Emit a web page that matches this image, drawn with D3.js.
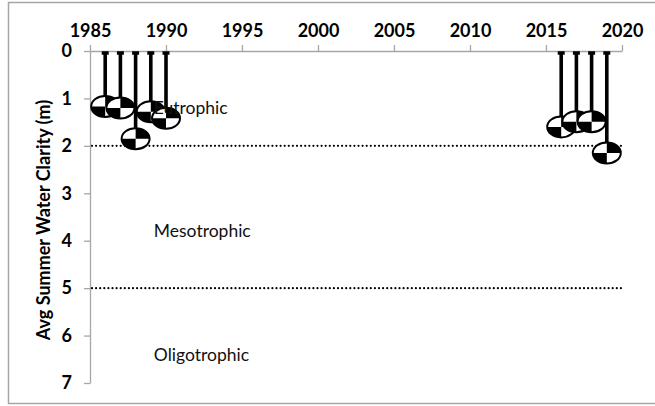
<!DOCTYPE html>
<html><head><meta charset="utf-8">
<script src="https://cdn.jsdelivr.net/npm/d3@7"></script>
<style>
html,body{margin:0;padding:0;background:#fff;}
text{font-family:Lato,"Liberation Sans",sans-serif;}
</style></head>
<body><svg id="c" width="655" height="406"></svg>
<script>
const years = [1986, 1987, 1988, 1989, 1990, 2016, 2017, 2018, 2019];
const clarity = [1.17, 1.2, 1.85, 1.28, 1.42, 1.6, 1.49, 1.49, 2.15];
const xTicks = [1985, 1990, 1995, 2000, 2005, 2010, 2015, 2020];
const yTicks = [0, 1, 2, 3, 4, 5, 6, 7];
const thresholds = [2, 5];
const zoneLabels = ["Eutrophic", "Mesotrophic", "Oligotrophic"];
const zoneDepths = [1.2, 3.8, 6.4];
const labelYear = 1989.2;

const svg = d3.select("#c");
svg.append("rect").attr("x", 8.5).attr("y", 2.5).attr("width", 660).attr("height", 401)
  .attr("fill", "#fff").attr("stroke", "#a6a6a6").attr("stroke-width", 1.5);

const x = d3.scaleLinear().domain([1985, 2020]).range([90, 622]);
const y = d3.scaleLinear().domain([0, 7]).range([51, 383]);

// axes
const xa = svg.append("g").attr("transform", `translate(0,${y(0)})`)
  .call(d3.axisTop(x).tickValues(xTicks).tickSize(6).tickSizeOuter(0).tickPadding(6).tickFormat(d3.format("d")));
const ya = svg.append("g").attr("transform", `translate(${x(1985)},0)`)
  .call(d3.axisLeft(y).tickValues(yTicks).tickSize(6).tickSizeOuter(0).tickPadding(12).tickFormat(d3.format("d")));
[xa, ya].forEach(g => {
  g.select(".domain").attr("stroke", "#a6a6a6").attr("stroke-width", 1.3);
  g.selectAll(".tick line").attr("stroke", "#a6a6a6").attr("stroke-width", 1.3);
  g.selectAll(".tick text").attr("fill", "#000").style("font-size", "18px").style("font-weight", "bold")
   .style("font-family", "Lato, sans-serif");
});
xa.selectAll(".tick text").attr("dy", "-0.1em");

svg.append("text").attr("transform", `translate(44,${(y(0) + y(7)) / 2 + 3}) rotate(-90)`)
  .attr("text-anchor", "middle").attr("dy", "0.35em").style("font-size", "18px").style("font-weight", "bold")
  .text("Avg Summer Water Clarity (m)");

// threshold lines
svg.selectAll("line.thr").data(thresholds).enter().append("line")
  .attr("x1", x(1985) + 2).attr("x2", x(2020)).attr("y1", d => y(d)).attr("y2", d => y(d))
  .attr("stroke", "#000").attr("stroke-width", 2.2).attr("stroke-dasharray", "0 4.1")
  .attr("stroke-linecap", "round");

const pts = years.map((yr, i) => ({ yr, v: clarity[i] }));
// drop lines
const g = svg.append("g");
pts.forEach(p => {
  g.append("line").attr("x1", x(p.yr)).attr("x2", x(p.yr)).attr("y1", y(0) + 1).attr("y2", y(p.v))
    .attr("stroke", "#000").attr("stroke-width", 3.6);
  g.append("line").attr("x1", x(p.yr) - 3.5).attr("x2", x(p.yr) + 3.5).attr("y1", y(0) + 2).attr("y2", y(0) + 2)
    .attr("stroke", "#000").attr("stroke-width", 3.5);
});
// secchi disks
const rx = 14, ry = 10.5;
pts.forEach(p => {
  const cx = x(p.yr), cy = y(p.v);
  const d = g.append("g").attr("transform", `translate(${cx},${cy})`);
  d.append("ellipse").attr("rx", rx).attr("ry", ry).attr("fill", "#fff");
  d.append("path").attr("d", `M0,0 L0,${-ry} A${rx},${ry} 0 0 1 ${rx},0 Z`).attr("fill", "#000");
  d.append("path").attr("d", `M0,0 L0,${ry} A${rx},${ry} 0 0 1 ${-rx},0 Z`).attr("fill", "#000");
  d.append("ellipse").attr("rx", rx).attr("ry", ry).attr("fill", "none").attr("stroke", "#000").attr("stroke-width", 2);
});

// zone labels (on top)
svg.selectAll("text.zone").data(zoneLabels).enter().append("text")
  .attr("x", x(labelYear)).attr("y", (d, i) => y(zoneDepths[i])).attr("dy", "0.35em")
  .style("font-size", "17.5px").attr("fill", "#111").text(d => d);
</script></body></html>
